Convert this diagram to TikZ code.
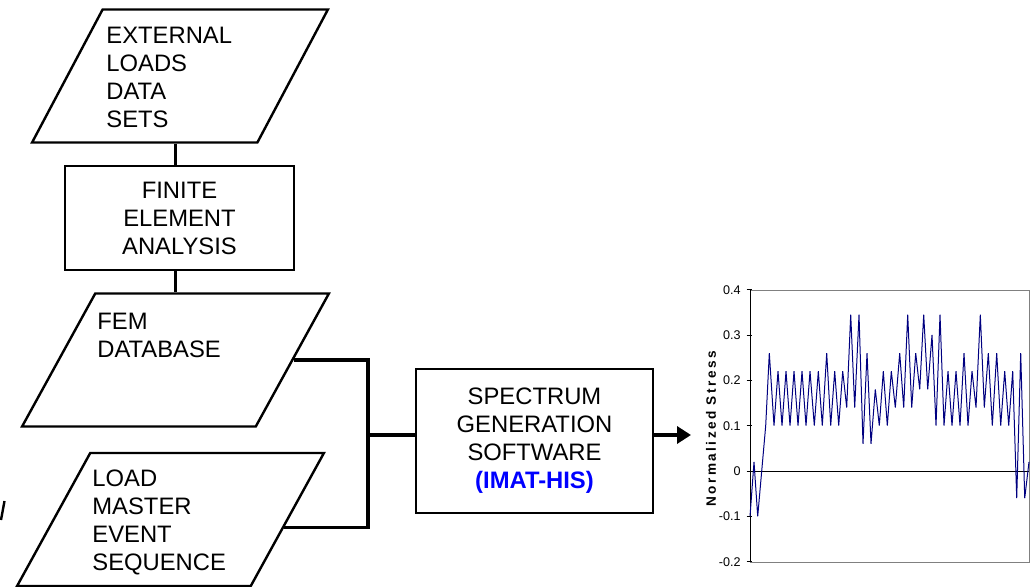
\documentclass[tikz,border=0pt]{standalone}
\usepackage{fontspec}
\setmainfont{Liberation Sans}
\usetikzlibrary{shapes.geometric,arrows.meta,calc}
\definecolor{stressblue}{RGB}{0,0,128}
\definecolor{imatblue}{RGB}{0,0,255}
\newcommand{\flowfont}{\fontsize{11.9}{14}\selectfont}

\begin{document}
\begin{tikzpicture}[
	x=0.5pt, y=-0.5pt,
	dataset/.style={ trapezium, trapezium left angle=65.5, trapezium right angle=114.5, trapezium stretches=true, draw, line width=1.2pt, minimum width=#1, minimum height=66.5pt, inner sep=2pt },
	process/.style={ rectangle, draw, line width=1.3pt, align=center, font=\flowfont, inner sep=0pt },
	note/.style={ anchor=north west, align=left, inner sep=0pt, font=\flowfont },
	link/.style={ line width=1.7pt },
	ticklabel/.style={ anchor=east, inner sep=0pt, font=\fontsize{6.3}{7}\selectfont }
]
	\useasboundingbox (0,0) rectangle (1031,587);

	% flow chart
	\node[dataset=148pt] (ext) at (180,76) {};
	\node[note] (extText) at (106,27) {EXTERNAL\\LOADS\\DATA\\SETS};
	\node[process, minimum width=114.5pt, minimum height=52pt] (fea) at (179.5,218) {FINITE\\ELEMENT\\ANALYSIS};
	\node[dataset=153.5pt] (fem) at (175.5,360) {};
	\node[note] (femText) at (97,313) {FEM\\DATABASE};
	\node[dataset=153.5pt] (lme) at (170.5,519.5) {};
	\node[note] (lmeText) at (92,469) {LOAD\\MASTER\\EVENT\\SEQUENCE};
	\node[process, minimum width=118.5pt, minimum height=72pt] (spec) at (534.5,441) {SPECTRUM\\GENERATION\\SOFTWARE\\{\color{imatblue}\bfseries (IMAT-HIS)}};

	\coordinate (bar) at (368,435);
	\coordinate (chart) at (691,435);
	\draw[link] (fem.north |- ext.south) -- (fem.north |- fea.north);
	\draw[link] (fem.north |- fea.south) -- (fem.north);
	\draw[link] (fem.east) -| (bar) |- ($(lme.top right corner)!0.56!(lme.bottom right corner)$);
	\draw[link] (bar) -- (bar -| spec.west);
	\draw[link, -{Triangle[length=7pt, width=8.5pt]}] (bar -| spec.east) -- (chart);

	\draw[line width=1.2pt] (1,520) -- (4.5,501);

	% stress history
	\draw[gray, line width=0.5pt] (750,290) rectangle (1029,562);
	\node[rotate=90, font=\fontsize{6.8}{8}\selectfont\bfseries\addfontfeature{LetterSpace=18}] (ylabel) at (711,429) {Normalized Stress};
	\begin{scope}[shift={(750,471)}, yscale=-453.33]
		\draw[line width=0.5pt] (0,-0.2) -- (0,0.4);
		\foreach \v/\t in {0.4/0.4, 0.3/0.3, 0.2/0.2, 0.1/0.1, 0/0, -0.1/-0.1, -0.2/-0.2} {
			\draw[line width=0.5pt] (-3.5,\v) -- (1.5,\v);
			\node[ticklabel] at (-9,\v) {\t};
		}
		\draw[line width=0.5pt] (0,0) -- (279,0);
		\draw[stressblue, line width=0.5pt] plot coordinates {
			(0,-0.1) (4,0.02) (7.7,-0.1) (15.7,0.1) (19.3,0.26) (24,0.1) (28,0.22) (32,0.1)
			(36,0.22) (40,0.1) (44,0.22) (48,0.1) (52,0.22) (56,0.1) (60,0.22) (64.3,0.1)
			(68.3,0.22) (72.3,0.1) (76.7,0.26) (80.7,0.1) (84.7,0.22) (88.7,0.1) (92.7,0.22)
			(96.7,0.14) (100.7,0.345) (104.7,0.14) (109,0.345) (113,0.06) (117,0.26) (121,0.06)
			(125.3,0.18) (129.3,0.1) (133.3,0.22) (137.3,0.1) (141.3,0.22) (145.3,0.14)
			(149.7,0.26) (153.7,0.14) (157.7,0.345) (161.7,0.14) (165.7,0.26) (169.7,0.18)
			(173.7,0.345) (177.7,0.18) (182,0.3) (186,0.1) (190,0.345) (194,0.1) (198,0.22)
			(202,0.1) (206,0.22) (210,0.1) (214,0.26) (218,0.1) (222,0.22) (226,0.14)
			(230.3,0.345) (234.3,0.14) (238.3,0.26) (242.3,0.1) (246.7,0.26) (250.7,0.1)
			(254.7,0.22) (258.7,0.1) (262.7,0.22) (266.7,-0.06) (270.7,0.26) (274.7,-0.06)
			(279,0.02)
		};
	\end{scope}
\end{tikzpicture}
\end{document}
